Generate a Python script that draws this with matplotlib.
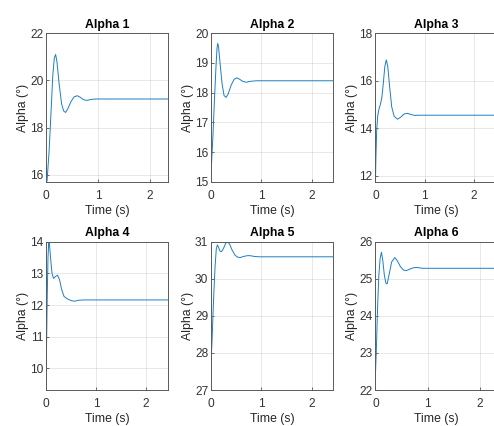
import numpy as np
import matplotlib
matplotlib.use("Agg")
import matplotlib.pyplot as plt

plt.rcParams['font.family'] = ['Liberation Sans', 'DejaVu Sans']

titles = ["Alpha 1", "Alpha 2", "Alpha 3", "Alpha 4", "Alpha 5", "Alpha 6"]

# values (time in s, alpha in deg)
t1 = [0, 0.02, 0.06, 0.10, 0.13, 0.16, 0.185, 0.21, 0.25, 0.30, 0.34, 0.377, 0.42, 0.48, 0.54, 0.60, 0.66, 0.72, 0.79, 0.86, 0.95, 2.35]
a1 = [16.4, 15.72, 17.0, 18.8, 20.2, 20.95, 21.1, 20.8, 19.9, 19.0, 18.7, 18.64, 18.8, 19.1, 19.3, 19.35, 19.28, 19.18, 19.15, 19.19, 19.21, 19.21]

t2 = [0, 0.012, 0.04, 0.07, 0.10, 0.12, 0.134, 0.15, 0.18, 0.22, 0.26, 0.30, 0.34, 0.40, 0.46, 0.515, 0.57, 0.63, 0.70, 0.78, 0.9, 2.43]
a2 = [15.4, 15.65, 16.6, 17.8, 18.9, 19.5, 19.66, 19.55, 19.0, 18.3, 17.9, 17.84, 17.95, 18.25, 18.45, 18.5, 18.45, 18.38, 18.35, 18.38, 18.4, 18.4]

t3 = [0, 0.01, 0.025, 0.045, 0.07, 0.10, 0.13, 0.16, 0.19, 0.22, 0.25, 0.29, 0.33, 0.38, 0.45, 0.52, 0.58, 0.65, 0.72, 0.8, 0.9, 2.48]
a3 = [11.75, 12.8, 13.9, 14.5, 14.8, 15.0, 15.3, 15.9, 16.6, 16.88, 16.6, 15.7, 14.9, 14.5, 14.38, 14.48, 14.6, 14.63, 14.58, 14.54, 14.55, 14.55]

t4 = [0, 0.01, 0.025, 0.04, 0.055, 0.07, 0.09, 0.12, 0.15, 0.19, 0.23, 0.27, 0.31, 0.36, 0.42, 0.5, 0.57, 0.65, 0.75, 2.44]
a4 = [9.32, 10.6, 12.3, 13.5, 14.0, 13.9, 13.5, 13.0, 12.84, 12.9, 12.94, 12.8, 12.5, 12.27, 12.2, 12.14, 12.12, 12.15, 12.16, 12.16]

t5 = [0, 0.02, 0.05, 0.08, 0.105, 0.126, 0.15, 0.18, 0.21, 0.25, 0.29, 0.33, 0.37, 0.42, 0.48, 0.53, 0.58, 0.65, 0.72, 0.78, 0.86, 0.95, 2.43]
a5 = [27.7, 28.3, 29.4, 30.3, 30.8, 30.91, 30.85, 30.74, 30.73, 30.82, 30.95, 31.0, 30.93, 30.77, 30.63, 30.58, 30.57, 30.6, 30.62, 30.62, 30.6, 30.59, 30.59]

t6 = [0, 0.02, 0.04, 0.065, 0.09, 0.115, 0.14, 0.17, 0.2, 0.224, 0.26, 0.31, 0.37, 0.42, 0.48, 0.54, 0.594, 0.66, 0.74, 0.81, 0.9, 2.34]
a6 = [22.42, 23.2, 24.2, 25.1, 25.55, 25.71, 25.5, 25.1, 24.88, 24.86, 25.1, 25.45, 25.57, 25.48, 25.32, 25.23, 25.22, 25.26, 25.3, 25.3, 25.28, 25.28]

times = [t1, t2, t3, t4, t5, t6]
alphas = [a1, a2, a3, a4, a5, a6]
ylims = [(15.7, 22), (15, 20), (11.75, 18), (9.32, 14), (27, 31), (22, 26)]
yticks = [[16, 18, 20, 22], [15, 16, 17, 18, 19, 20], [12, 14, 16, 18],
          [10, 11, 12, 13, 14], [27, 28, 29, 30, 31], [22, 23, 24, 25, 26]]

fig = plt.figure(figsize=(4.94, 4.26), dpi=100)

lefts = [0.0931, 0.4271, 0.760]
bottoms = [0.5735, 0.0845]
w, h = 0.2476, 0.3484

for i in range(6):
    ax = fig.add_axes([lefts[i % 3], bottoms[i // 3], w, h])
    ax.plot(times[i], alphas[i], color='#1a7fc4', lw=0.7)
    ax.set_xlim(0, times[i][-1])
    ax.set_ylim(*ylims[i])
    ax.set_xticks([0, 1, 2])
    ax.set_yticks(yticks[i])
    ax.grid(True, color='#262626', alpha=0.12, lw=0.6)
    ax.tick_params(direction='in', length=2, width=0.5, colors='#333333',
                   labelsize=8.6)
    ax.tick_params(axis='x', pad=6)
    ax.tick_params(axis='y', pad=2)
    for s in ax.spines.values():
        s.set_color('#5a5a5a')
        s.set_linewidth(0.7)
    ax.set_title(titles[i], fontsize=8.8, fontweight='bold', pad=4)
    ax.set_xlabel('Time (s)', fontsize=8.8, color='#262626', labelpad=2)
    ax.set_ylabel('Alpha (°)', fontsize=8.8, color='#262626', labelpad=1)

fig.savefig('out.png', dpi=100)
